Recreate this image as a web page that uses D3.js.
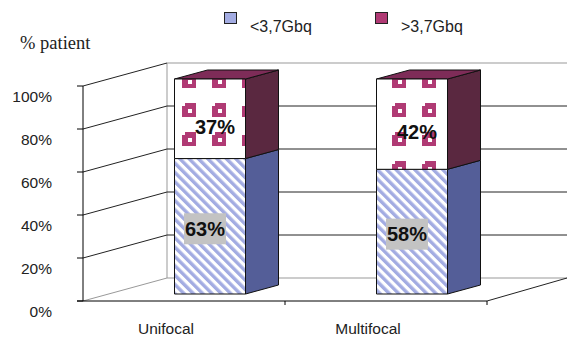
<!DOCTYPE html>
<html>
<head>
  <meta charset="utf-8">
  <title>% patient by activity</title>
  <style>
    body { margin: 0; background: #fff; }
    text { font-family: "Liberation Sans", Arial, sans-serif; }
    .title { font-family: "Liberation Serif", "Times New Roman", serif; }
  </style>
</head>
<body>
  <script src="https://d3js.org/d3.v7.min.js"></script>
  <svg width="569" height="338"></svg>
  <script>
    var categories = ["Unifocal", "Multifocal"];
    var series = ["<3,7Gbq", ">3,7Gbq"];
    var lowValues = [63, 58];
    var highValues = [37, 42];
    var yTicks = [0, 20, 40, 60, 80, 100];

    var svg = d3.select("svg");

    var y = d3.scaleLinear().domain([0, 100]).range([301, 86]);
    var x = d3.scaleBand().domain(categories).range([83, 487]);
    var depth = { dx: 84, dy: -23 };
    var backX = 83 + depth.dx;
    var rightX = 567;

    var defs = svg.append("defs");

    // light blue diagonal stripes
    var stripes = defs.append("pattern")
        .attr("id", "stripes")
        .attr("patternUnits", "userSpaceOnUse")
        .attr("width", 6.6)
        .attr("height", 10)
        .attr("patternTransform", "rotate(-45)");
    stripes.append("rect").attr("width", 6.6).attr("height", 10).attr("fill", "#fff");
    stripes.append("rect").attr("width", 3.4).attr("height", 10).attr("fill", "#a3ace2");

    // magenta squares on white
    var dots = defs.append("pattern")
        .attr("id", "dots")
        .attr("patternUnits", "userSpaceOnUse")
        .attr("x", 2).attr("y", 16)
        .attr("width", 30)
        .attr("height", 29);
    dots.append("rect").attr("width", 30).attr("height", 29).attr("fill", "#fff");
    dots.append("rect").attr("width", 14).attr("height", 14).attr("fill", "#b03a74");
    dots.append("rect").attr("width", 3).attr("height", 3).attr("fill", "#fff");
    dots.append("rect").attr("x", 6).attr("y", 6).attr("width", 4).attr("height", 4).attr("fill", "#fff");

    // back wall & floor
    svg.append("line")
        .attr("x1", backX).attr("x2", backX)
        .attr("y1", y(100) + depth.dy).attr("y2", y(0) + depth.dy)
        .attr("stroke", "#999");
    svg.append("line")
        .attr("x1", backX).attr("x2", rightX)
        .attr("y1", y(100) + depth.dy).attr("y2", y(100) + depth.dy)
        .attr("stroke", "#999");

    var grid = svg.append("g");
    yTicks.forEach(function(t) {
      var col = (t === 0) ? "#999" : "#222";
      grid.append("line")
          .attr("x1", 83).attr("y1", y(t))
          .attr("x2", backX).attr("y2", y(t) + depth.dy)
          .attr("stroke", col);
      if (t > 0 && t < 100) {
        grid.append("line")
            .attr("x1", backX).attr("y1", y(t) + depth.dy)
            .attr("x2", rightX).attr("y2", y(t) + depth.dy)
            .attr("stroke", col);
      }
    });
    svg.append("line")
        .attr("x1", backX).attr("x2", rightX)
        .attr("y1", y(0) + depth.dy).attr("y2", y(0) + depth.dy)
        .attr("stroke", "#999");
    svg.append("line")
        .attr("x1", 487).attr("y1", y(0))
        .attr("x2", rightX).attr("y2", y(0) + depth.dy)
        .attr("stroke", "#222");

    // front axis
    svg.append("line")
        .attr("x1", 83).attr("x2", 83)
        .attr("y1", y(100)).attr("y2", y(0))
        .attr("stroke", "#000");
    svg.append("line")
        .attr("x1", 77).attr("x2", 487)
        .attr("y1", y(0)).attr("y2", y(0))
        .attr("stroke", "#000");
    yTicks.forEach(function(t) {
      svg.append("line")
          .attr("x1", 77).attr("x2", 83)
          .attr("y1", y(t)).attr("y2", y(t))
          .attr("stroke", "#000");
      svg.append("text")
          .attr("x", 52).attr("y", y(t) + 15.5)
          .attr("text-anchor", "end")
          .attr("font-size", 15.5)
          .attr("fill", "#222")
          .text(t + "%");
    });
    categories.forEach(function(c) {
      svg.append("line")
          .attr("x1", x(c) + x.bandwidth()).attr("x2", x(c) + x.bandwidth())
          .attr("y1", y(0)).attr("y2", y(0) + 4)
          .attr("stroke", "#000");
      svg.append("text")
          .attr("x", x(c) + x.bandwidth() / 2 - 18)
          .attr("y", 334)
          .attr("text-anchor", "middle")
          .attr("font-size", 15.5)
          .attr("fill", "#222")
          .text(c);
    });

    // 3D bars
    var barW = 71;
    var off = { dx: 26, dy: -7 };
    var side = { dx: 33, dy: -9 };

    function box(x0, yTop, yBot, front, sideCol, topCol, drawTop) {
      var g = svg.append("g").attr("stroke", "#111").attr("stroke-width", 1).attr("stroke-linejoin", "round");
      var x1 = x0 + barW;
      g.append("path")
          .attr("d", "M" + x1 + "," + yTop + "L" + (x1 + side.dx) + "," + (yTop + side.dy) +
                     "L" + (x1 + side.dx) + "," + (yBot + side.dy) + "L" + x1 + "," + yBot + "Z")
          .attr("fill", sideCol);
      if (drawTop) {
        g.append("path")
            .attr("d", "M" + x0 + "," + yTop + "L" + x1 + "," + yTop +
                       "L" + (x1 + side.dx) + "," + (yTop + side.dy) +
                       "L" + (x0 + side.dx) + "," + (yTop + side.dy) + "Z")
            .attr("fill", topCol);
      }
      g.append("rect")
          .attr("x", x0).attr("y", yTop)
          .attr("width", barW).attr("height", yBot - yTop)
          .attr("fill", front);
    }

    categories.forEach(function(c, i) {
      var x0 = x(c) + (x.bandwidth() - barW) / 2 + off.dx;
      var yBase = y(0) + off.dy;
      var yMid = y(lowValues[i]) + off.dy;
      var yTop = y(lowValues[i] + highValues[i]) + off.dy;
      box(x0, yMid, yBase, "url(#stripes)", "#545e98", "#545e98", false);
      box(x0, yTop, yMid, "url(#dots)", "#5a2840", "#7e2c58", true);

      var cx = x0 + barW / 2;
      // low value label on gray box
      var ly = (yMid + yBase) / 2 + 2.5;
      svg.append("rect")
          .attr("x", cx - 5 - 21).attr("y", ly - 15.5)
          .attr("width", 42).attr("height", 31)
          .attr("fill", "#c3c3c3");
      svg.append("text")
          .attr("x", cx - 5).attr("y", ly + 7)
          .attr("text-anchor", "middle")
          .attr("font-size", 20).attr("font-weight", "bold")
          .attr("fill", "#111")
          .text(lowValues[i] + "%");
      // high value label
      svg.append("text")
          .attr("x", cx + 5).attr("y", (yTop + yMid) / 2 + 8 + 7)
          .attr("text-anchor", "middle")
          .attr("font-size", 20).attr("font-weight", "bold")
          .attr("fill", "#111")
          .text(highValues[i] + "%");
    });

    // legend
    var legendColors = ["#a3ace2", "#b03a74"];
    var legendX = [224, 375];
    series.forEach(function(s, i) {
      svg.append("rect")
          .attr("x", legendX[i] + 0.5).attr("y", 12.5)
          .attr("width", 12).attr("height", 11)
          .attr("fill", legendColors[i])
          .attr("stroke", "#222");
      svg.append("text")
          .attr("x", legendX[i] + 26).attr("y", 32)
          .attr("font-size", 16)
          .attr("fill", "#222")
          .text(s);
    });

    svg.append("text")
        .attr("class", "title")
        .attr("x", 20).attr("y", 49)
        .attr("font-size", 18.5)
        .attr("fill", "#222")
        .text("% patient");
  </script>
</body>
</html>
